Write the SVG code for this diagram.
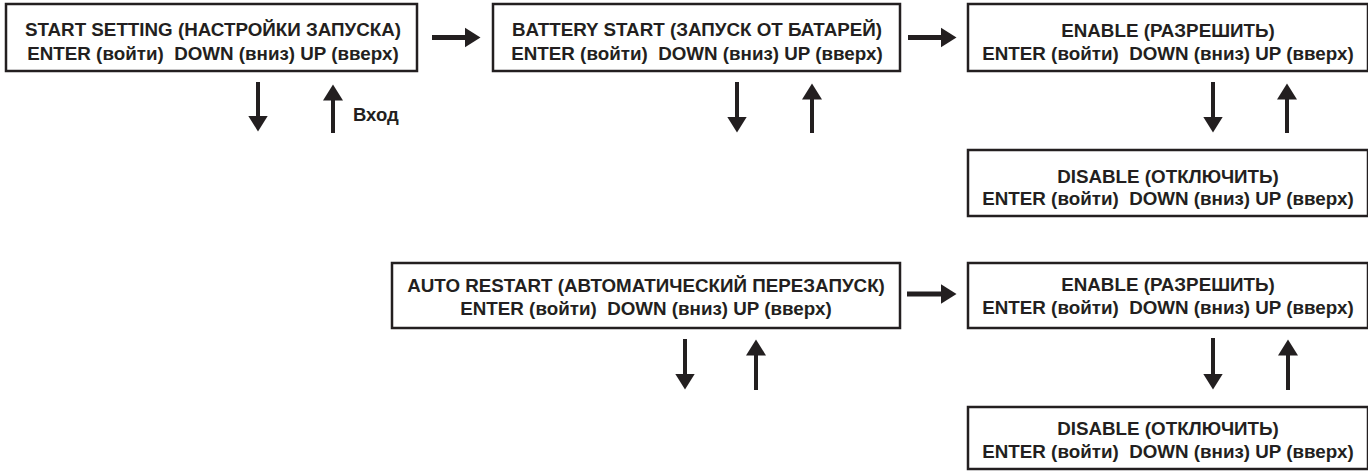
<svg xmlns="http://www.w3.org/2000/svg" width="1368" height="472" viewBox="0 0 1368 472">
<style>
.box{fill:#fff;stroke:#231f20;stroke-width:2.5}
.t{font-family:"Liberation Sans",Arial,sans-serif;font-weight:bold;font-size:18.8px;fill:#231f20;text-anchor:middle;white-space:pre}
.lbl{font-family:"Liberation Sans",Arial,sans-serif;font-weight:bold;font-size:18.5px;fill:#231f20}
.h{stroke:#231f20;stroke-width:5;fill:none}
.v{stroke:#231f20;stroke-width:4;fill:none}
</style>
<defs>
<marker id="ah" markerUnits="userSpaceOnUse" markerWidth="18" markerHeight="22" viewBox="0 -11 18 22" refX="0.5" refY="0" orient="auto">
<path d="M0,-10 L16,0 L0,10 Z" fill="#231f20"/>
</marker>
</defs>
<rect width="1368" height="472" fill="#fff"/>
<g id="n1">
<rect class="box" x="6" y="4" width="411" height="67"/>
<text class="t" x="213" y="36">START SETTING (НАСТРОЙКИ ЗАПУСКА)</text>
<text class="t" x="213" y="60" xml:space="preserve">ENTER (войти)  DOWN (вниз) UP (вверх)</text>
</g>
<g id="n2">
<rect class="box" x="493" y="4" width="407" height="67"/>
<text class="t" x="697" y="36">BATTERY START (ЗАПУСК ОТ БАТАРЕЙ)</text>
<text class="t" x="697" y="60" xml:space="preserve">ENTER (войти)  DOWN (вниз) UP (вверх)</text>
</g>
<g id="n3">
<rect class="box" x="968" y="4" width="400" height="67"/>
<text class="t" x="1168" y="37">ENABLE (РАЗРЕШИТЬ)</text>
<text class="t" x="1168" y="60" xml:space="preserve">ENTER (войти)  DOWN (вниз) UP (вверх)</text>
</g>
<g id="n4">
<rect class="box" x="968" y="150" width="400" height="66"/>
<text class="t" x="1168" y="183">DISABLE (ОТКЛЮЧИТЬ)</text>
<text class="t" x="1168" y="205" xml:space="preserve">ENTER (войти)  DOWN (вниз) UP (вверх)</text>
</g>
<g id="n5">
<rect class="box" x="392" y="263" width="508" height="65"/>
<text class="t" x="646" y="292">AUTO RESTART (АВТОМАТИЧЕСКИЙ ПЕРЕЗАПУСК)</text>
<text class="t" x="646" y="315" xml:space="preserve">ENTER (войти)  DOWN (вниз) UP (вверх)</text>
</g>
<g id="n6">
<rect class="box" x="968" y="263" width="400" height="65"/>
<text class="t" x="1168" y="291">ENABLE (РАЗРЕШИТЬ)</text>
<text class="t" x="1168" y="314" xml:space="preserve">ENTER (войти)  DOWN (вниз) UP (вверх)</text>
</g>
<g id="n7">
<rect class="box" x="968" y="407" width="400" height="62"/>
<text class="t" x="1168" y="435">DISABLE (ОТКЛЮЧИТЬ)</text>
<text class="t" x="1168" y="458" xml:space="preserve">ENTER (войти)  DOWN (вниз) UP (вверх)</text>
</g>
<g id="connectors">
<line class="h" x1="432" y1="37.5" x2="465" y2="37.5" marker-end="url(#ah)"/>
<line class="h" x1="908" y1="37.5" x2="941" y2="37.5" marker-end="url(#ah)"/>
<line class="h" x1="907" y1="294" x2="941" y2="294" marker-end="url(#ah)"/>
<line class="v" x1="258" y1="82" x2="258" y2="116" marker-end="url(#ah)"/>
<line class="v" x1="333" y1="133" x2="333" y2="100" marker-end="url(#ah)"/>
<line class="v" x1="737" y1="82" x2="737" y2="117" marker-end="url(#ah)"/>
<line class="v" x1="812" y1="133" x2="812" y2="99" marker-end="url(#ah)"/>
<line class="v" x1="1213" y1="82" x2="1213" y2="117" marker-end="url(#ah)"/>
<line class="v" x1="1287" y1="133" x2="1287" y2="99" marker-end="url(#ah)"/>
<line class="v" x1="685" y1="339" x2="685" y2="374" marker-end="url(#ah)"/>
<line class="v" x1="756" y1="390" x2="756" y2="355" marker-end="url(#ah)"/>
<line class="v" x1="1213" y1="338" x2="1213" y2="374" marker-end="url(#ah)"/>
<line class="v" x1="1288" y1="390" x2="1288" y2="355" marker-end="url(#ah)"/>
</g>
<text class="lbl" x="353" y="121">Вход</text>
</svg>
